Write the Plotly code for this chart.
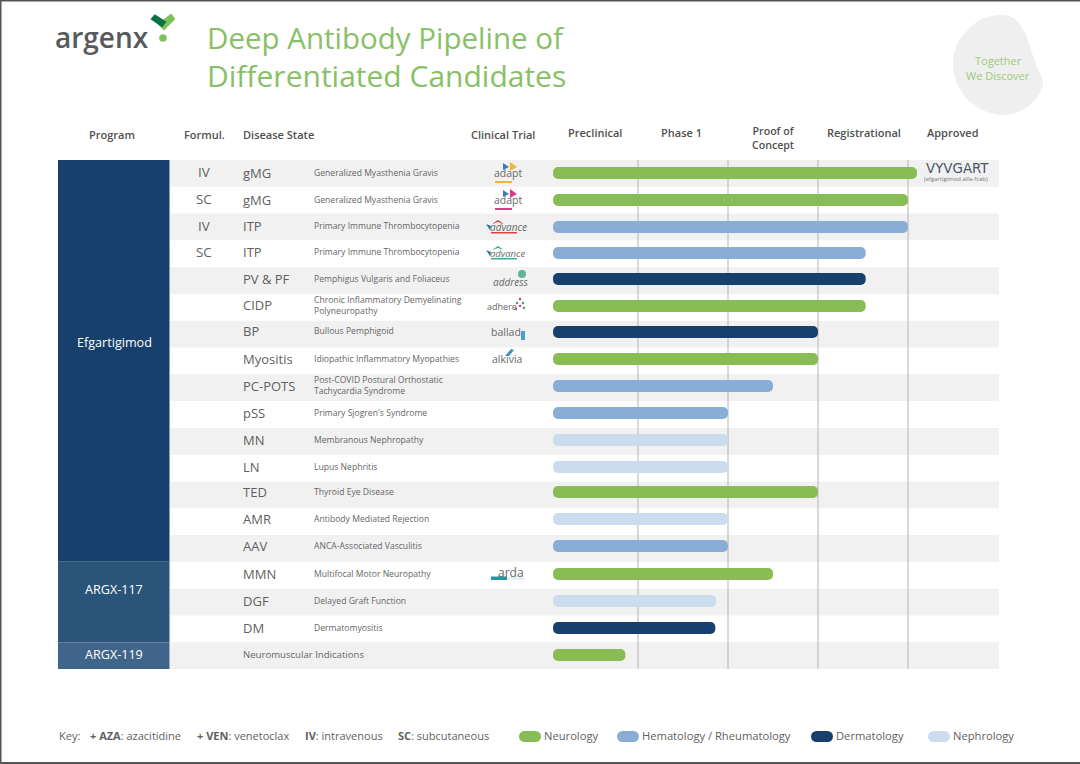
import plotly.graph_objects as go

W, H = 1080, 764
FONT = "Open Sans"

# ---- data ----
formulations = ["IV", "SC", "IV", "SC", "", "", "", "", "", "", "", "", "", "", "", "", "", "", ""]
indications = ["gMG", "gMG", "ITP", "ITP", "PV & PF", "CIDP", "BP", "Myositis", "PC-POTS", "pSS", "MN", "LN",
               "TED", "AMR", "AAV", "MMN", "DGF", "DM", ""]
full_names = ["Generalized Myasthenia Gravis", "Generalized Myasthenia Gravis",
              "Primary Immune Thrombocytopenia", "Primary Immune Thrombocytopenia",
              "Pemphigus Vulgaris and Foliaceus",
              "Chronic Inflammatory Demyelinating<br>Polyneuropathy",
              "Bullous Pemphigoid", "Idiopathic Inflammatory Myopathies",
              "Post-COVID Postural Orthostatic<br>Tachycardia Syndrome",
              "Primary Sjogren's Syndrome", "Membranous Nephropathy", "Lupus Nephritis",
              "Thyroid Eye Disease", "Antibody Mediated Rejection", "ANCA-Associated Vasculitis",
              "Multifocal Motor Neuropathy", "Delayed Graft Function", "Dermatomyositis", ""]
areas = ["Neurology", "Neurology", "Hematology / Rheumatology", "Hematology / Rheumatology", "Dermatology",
         "Neurology", "Dermatology", "Neurology", "Hematology / Rheumatology", "Hematology / Rheumatology",
         "Nephrology", "Nephrology", "Neurology", "Nephrology", "Hematology / Rheumatology", "Neurology",
         "Nephrology", "Dermatology", "Neurology"]
# progress in phase units: 1 = end of preclinical, 2 = Phase 1, 3 = PoC, 4 = Registrational
progress = [4.10, 4.00, 4.00, 3.53, 3.53, 3.53, 3.00, 3.00, 2.50, 2.00, 2.00, 2.00, 3.00, 2.00, 2.00, 2.50, 1.87, 1.86, 0.86]
phase_start = 0.056
phase_lines = [1, 2, 3, 4]
area_colors = {"Neurology": "#88BC54", "Hematology / Rheumatology": "#8AADD8",
               "Dermatology": "#17406D", "Nephrology": "#CBDCEE"}
programs = ["Efgartigimod", "ARGX-117", "ARGX-119"]
program_rows = [(0, 15), (15, 18), (18, 19)]
program_colors = ["#17406D", "#2A5579", "#41658A"]
headers = ["Program", "Formul.", "Disease State", "Clinical Trial", "Preclinical", "Phase 1",
           "Proof of<br>Concept", "Registrational", "Approved"]
header_x = [112, 204, 278, 503, 595, 681, 773, 864, 953]
header_y = [135.5, 135.5, 135.5, 135.5, 133, 133, 139, 133, 133]
header_size = [11, 11, 11, 11, 11, 11, 10.6, 11, 11]
trial_logos = {0: ("adapt", "#F2B632"), 1: ("adapt", "#E0368C"), 2: ("advance", "#D8453F"), 3: ("advance", "#3FA8A0"),
               4: ("address", "#63B39A"), 5: ("adhere", "#C63D86"), 6: ("ballad", "#4F9BD0"), 7: ("alkivia", "#3F8FB8"),
               15: ("arda", "#1F9AA0")}
key_items = [("Key:", 59), ("<b>+ AZA</b>: azacitidine", 90), ("<b>+ VEN</b>: venetoclax", 197),
             ("<b>IV</b>: intravenous", 305), ("<b>SC</b>: subcutaneous", 398)]
legend_x = {"Neurology": 519, "Hematology / Rheumatology": 617, "Dermatology": 811, "Nephrology": 928}

# ---- pixel geometry ----
X0, XU = 548.0, 90.0
Y0, YU = 160.0, 26.79
row_centers = [173, 200, 227, 253, 279, 306, 332, 359, 386, 413, 440, 467, 492, 519, 546, 574, 601, 628, 655]


def px(x):
    return x / W


def py(y):
    return 1 - y / H


row_y = [(c - Y0) / YU for c in row_centers]
fig = go.Figure()

for area, color in area_colors.items():
    idx = [i for i, a in enumerate(areas) if a == area]
    fig.add_trace(go.Bar(
        y=[row_y[i] for i in idx],
        x=[progress[i] - phase_start for i in idx],
        base=[phase_start] * len(idx),
        orientation="h", width=0.44, name=area, showlegend=False,
        marker=dict(color=color, cornerradius="50%", line_width=0),
        hovertext=[indications[i] or full_names[i] for i in idx], hoverinfo="text"))

shapes, ann = [], []


def text(x, y, s, size, color="#5A5A5A", anchor="left", weight=None, font=FONT):
    f = dict(family=font, size=size, color=color)
    if weight:
        f["weight"] = weight
    ann.append(dict(x=px(x - 2 if anchor == "left" else x), y=py(y - 1), xref="paper", yref="paper", text=s,
                    showarrow=False, font=f, yanchor="middle",
                    xanchor="center" if anchor == "middle" else anchor,
                    align="center" if anchor == "middle" else anchor))


def rect(x0, y0, x1, y1, color, layer="below"):
    shapes.append(dict(type="rect", xref="paper", yref="paper", x0=px(x0), x1=px(x1), y0=py(y0), y1=py(y1),
                       fillcolor=color, line_width=0, layer=layer))


def circle(cx, cy, r, color):
    shapes.append(dict(type="circle", xref="paper", yref="paper", x0=px(cx - r), x1=px(cx + r),
                       y0=py(cy + r), y1=py(cy - r), fillcolor=color, line_width=0))


def path(points, color, layer="above", width=0):
    d = "M" + " L".join(f"{px(x):.5f},{py(y):.5f}" for x, y in points) + " Z"
    shapes.append(dict(type="path", xref="paper", yref="paper", path=d, layer=layer, fillcolor=color,
                       line=dict(color=color, width=width)))


def smooth(points, color, layer="below"):
    """Closed Catmull-Rom outline as cubic Beziers."""
    n = len(points)
    d = f"M{px(points[0][0]):.5f},{py(points[0][1]):.5f}"
    for i in range(n):
        p0, p1, p2, p3 = points[i - 1], points[i], points[(i + 1) % n], points[(i + 2) % n]
        c1 = (p1[0] + (p2[0] - p0[0]) / 6, p1[1] + (p2[1] - p0[1]) / 6)
        c2 = (p2[0] - (p3[0] - p1[0]) / 6, p2[1] - (p3[1] - p1[1]) / 6)
        d += (f" C{px(c1[0]):.5f},{py(c1[1]):.5f} {px(c2[0]):.5f},{py(c2[1]):.5f} "
              f"{px(p2[0]):.5f},{py(p2[1]):.5f}")
    shapes.append(dict(type="path", xref="paper", yref="paper", path=d + " Z", layer=layer,
                       fillcolor=color, line_width=0))


# page border
rect(0, 0, W, 1.5, "#555555")
rect(0, 0, 1.5, H, "#555555")
rect(0, H - 2, W, H, "#555555")

# row stripes
for r in range(0, len(indications), 2):
    shapes.append(dict(type="rect", xref="paper", yref="y", x0=px(170), x1=px(999), y0=r, y1=r + 1,
                       fillcolor="#F1F1F1", line_width=0, layer="below"))
# phase lines
for v in phase_lines:
    shapes.append(dict(type="line", xref="x", yref="y", x0=v, x1=v, y0=0, y1=len(indications),
                       line=dict(color="#B4B4B4", width=1), layer="below"))
# program blocks
for name, (a, b), c in zip(programs, program_rows, program_colors):
    shapes.append(dict(type="rect", xref="paper", yref="y", x0=px(58), x1=px(169.5), y0=a, y1=b,
                       fillcolor=c, line_width=0, layer="below"))
for name, y in zip(programs, [343.5, 590.5, 655.5]):
    text(114, y, name, 12.6, "#FFFFFF", "middle", 500)

# row text
for r in range(len(indications)):
    yc = row_centers[r]
    if formulations[r]:
        text(204, yc, formulations[r], 13.4, "#5F5F5F", "middle")
    if indications[r]:
        text(243, yc + 0.5, indications[r], 13, "#5F5F5F")
        text(313.5, yc + 0.5, full_names[r], 8.6, "#666666")
text(243, 655.5, "Neuromuscular Indications", 9.6, "#666666")

# headers
for h, x, y, s in zip(headers, header_x, header_y, header_size):
    text(x, y, h, s, "#505050", "middle", 600)

# title + logo
text(207, 39, "Deep Antibody Pipeline of", 29.5, "#88C066")
text(207, 76, "Differentiated Candidates", 30, "#88C066")
text(55, 38, "argenx", 28, "#58595B", weight=600)
path([(159, 24), (171, 15), (174, 19), (164, 29)], "#7DC15B", width=2)
path([(152, 19), (155, 15.5), (165, 22), (162, 26)], "#0B7148", width=2)
circle(163, 38, 3.8, "#7DC15B")

# blob
blob = [(1000, 15), (1015, 19), (1025, 33), (1031, 50), (1037, 67), (1043, 83), (1035, 100), (1020, 111), (1003, 115),
        (985, 111), (968, 100), (957, 83), (953, 63), (957, 45), (965, 33), (980, 20)]
smooth(blob, "#EFEFEF")
text(998, 62, "Together", 11, "#9CCB7A", "middle")
text(998, 77, "We Discover", 11, "#9CCB7A", "middle")

# trial logos (text)
logo_style = {"adapt": (508, 1, 10.5), "address": (510, 4, 10), "adhere": (501.5, 1, 9),
              "ballad": (505.5, 1, 10.5), "alkivia": (507, 1, 10.5), "arda": (511, -1, 12)}
for r, (name, c) in trial_logos.items():
    yc = row_centers[r]
    if name == "advance":
        x, dy, size = (509, 1, 10) if r == 2 else (507, 1, 9.5)
    else:
        x, dy, size = logo_style[name]
    label = f"<i>{name}</i>" if name in ("advance", "address") else name
    text(x, yc + dy, label, size, "#6A6A6A", "middle")
    if name == "adapt":
        path([(503, yc - 10), (509, yc - 6), (503, yc - 3)], "#3F78C0")
        path([(510, yc - 11), (517, yc - 6), (510, yc - 2)], c)
        rect(495, yc + 8, 512, yc + 10, c, "above")
    elif name == "advance":
        path([(486, yc - 3), (491, yc - 1), (490, yc + 3)], "#2F6EA8")
        path([(492, yc - 3), (498, yc - 7), (504, yc - 3), (498, yc - 5)], c)
        rect(491, yc + 5, 517, yc + 6.5, c, "above")
    elif name == "address":
        circle(522, yc - 5, 4, c)
    elif name == "adhere":
        for k, (dx, ddy) in enumerate([(0, -3), (3, -7), (6, -3), (3, 0), (7, 2), (-1, 3)]):
            circle(517 + dx, yc + ddy, 1.2, c if k % 2 else "#3F9E6E")
    elif name == "ballad":
        rect(521, yc - 1, 525, yc + 8, c, "above")
    elif name == "alkivia":
        path([(505, yc - 3), (511, yc - 10), (514, yc - 9), (509, yc - 3)], c)
    elif name == "arda":
        rect(491, yc + 2.5, 507, yc + 6, c, "above")
        rect(507, yc + 3.5, 524, yc + 5.5, "#D5EDEE", "above")

# approved brand
text(957, 170, "VYVGART", 13.4, "#4A5566", "middle", 400, "DejaVu Sans")
text(956, 179.5, "(efgartigimod alfa-fcab)", 5.9, "#777777", "middle")

# key
for s, x in key_items:
    text(x, 736, s, 11, "#5F5F5F")

# legend
for area, x in legend_x.items():
    rect(x + 5.5, 731, x + 16.5, 742, area_colors[area], "above")
    circle(x + 5.5, 736.5, 5.5, area_colors[area])
    circle(x + 16.5, 736.5, 5.5, area_colors[area])
    text(x + 25, 736, area, 11.2, "#5F5F5F")

fig.update_layout(
    width=W, height=H, margin=dict(l=0, r=0, t=0, b=0), autosize=False,
    paper_bgcolor="white", plot_bgcolor="rgba(0,0,0,0)", showlegend=False, barmode="overlay",
    xaxis=dict(range=[-X0 / XU, (W - X0) / XU], visible=False, fixedrange=True),
    yaxis=dict(range=[(H - Y0) / YU, -Y0 / YU], visible=False, fixedrange=True),
    shapes=shapes, annotations=ann,
)
fig.write_html("out.html", post_script="document.body.style.margin='0';", config={"displayModeBar": False})
